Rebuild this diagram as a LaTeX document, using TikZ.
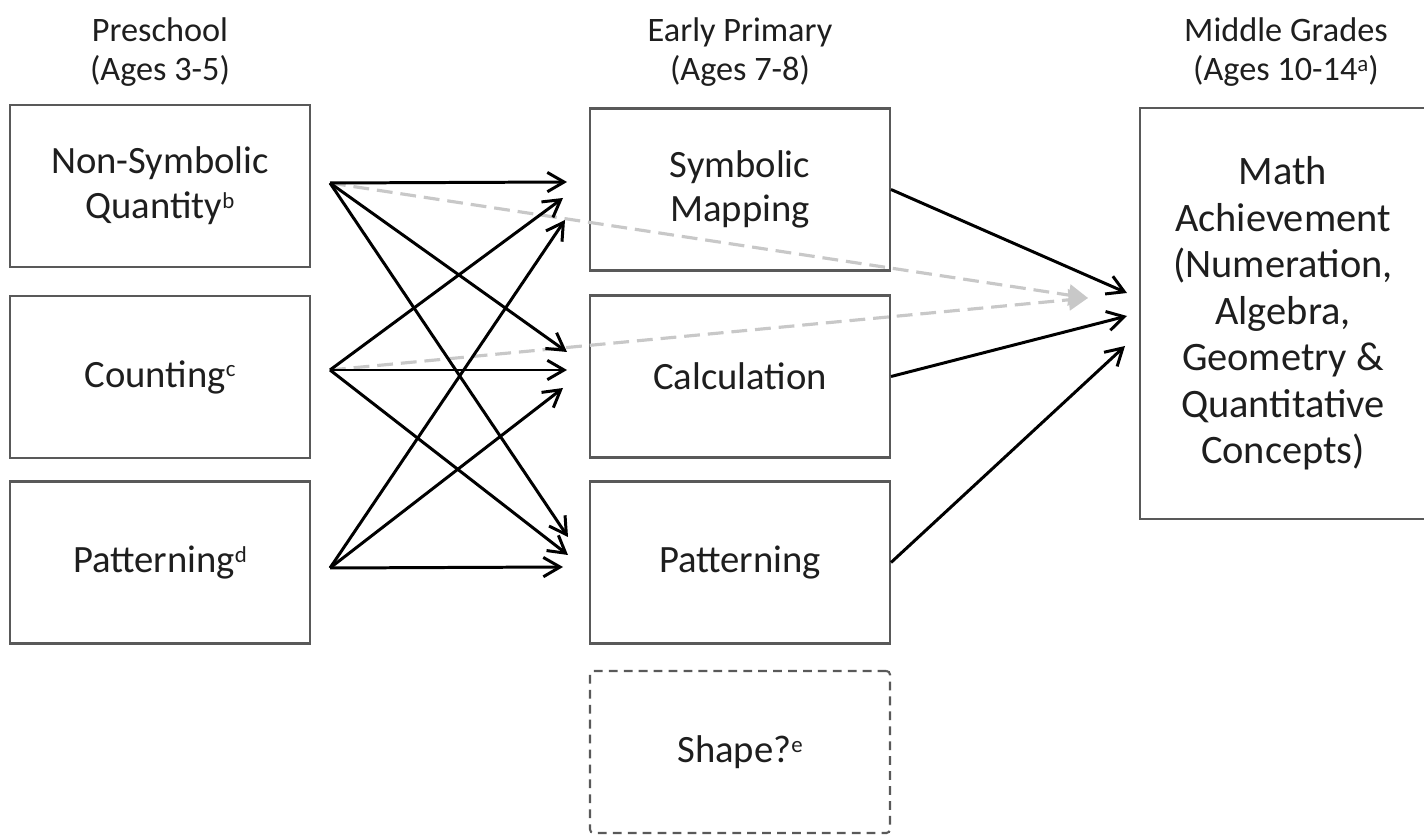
\documentclass[tikz,border=0pt]{standalone}
\usepackage{fontspec}
\setmainfont{Carlito}
\usetikzlibrary{arrows.meta}
\definecolor{boxline}{HTML}{595959}
\definecolor{txt}{HTML}{1E1E1E}
\definecolor{hint}{HTML}{C8C8C8}
\newcommand{\noteref}[1]{\raisebox{0.55ex}{\fontsize{13}{13}\selectfont #1}}
\tikzset{
  box/.style={draw=boxline, line width=1.2pt, minimum width=6cm, minimum height=3.24cm,
    align=center, text=txt, font=\fontsize{22}{25.5}\selectfont},
  head/.style={align=center, text=txt, font=\fontsize{19.5}{22}\selectfont},
  link/.style={-{Straight Barb[length=9.5pt,width=11pt]}, line width=1.7pt},
  hintlink/.style={draw=hint, line width=1.8pt, dash pattern=on 9pt off 4.5pt,
    -{Triangle[length=11pt,width=12pt]}},
}
\begin{document}
\begin{tikzpicture}[x=0.02cm,y=-0.02cm]
    \useasboundingbox (0,0) rectangle (1424,837);
    % column heads
    \node[head] (hpre) at (160,52) {Preschool\\(Ages 3-5)};
    \node[head] (hearly) at (740,52) {Early Primary\\(Ages 7-8)};
    \node[head] (hmid) at (1286,52) {Middle Grades\\(Ages 10-14\noteref{a})};
    % preschool
    \node[box] (nsq) at (160,186) {Non-Symbolic\\Quantity\noteref{b}};
    \node[box] (cnt) at (160,377) {Counting\noteref{c}};
    \node[box] (pat) at (160,562.5) {Patterning\noteref{d}};
    % early primary
    \node[box] (sym) at (740,189.5) {Symbolic\\Mapping};
    \node[box] (calc) at (740,376.5) {Calculation};
    \node[box] (patb) at (740,562.5) {Patterning};
    \node[box, dash pattern=on 5pt off 3.5pt, rounded corners=2pt] (shape) at (740,752) {Shape?\noteref{e}};
    % middle grades
    \node[box, minimum width=5.72cm, minimum height=8.22cm, font=\fontsize{23}{26.5}\selectfont] (math) at (1283,313.5)
        {Math\\Achievement\\(Numeration,\\Algebra,\\Geometry \&\\Quantitative\\Concepts)};
    % arrow ends
    \coordinate (a) at (330,183);
    \coordinate (b) at (330,370);
    \coordinate (c) at (330,568);
    \coordinate (s1) at (567,182);
    \coordinate (s2) at (563,198);
    \coordinate (s3) at (565,220);
    \coordinate (k1) at (567,352);
    \coordinate (k2) at (567,370);
    \coordinate (k3) at (563,388);
    \coordinate (p1) at (568,537);
    \coordinate (p2) at (568,555);
    \coordinate (p3) at (563,567);
    \coordinate (m1) at (1127,293);
    \coordinate (m2) at (1127,316);
    \coordinate (m3) at (1125,346);
    \coordinate (mg) at (1088,298);
    % gray paths
    \draw[hintlink] (a) -- (mg);
    \draw[hintlink] (b) -- (mg);
    % preschool to early primary
    \draw[link] (a) -- (s1);
    \draw[link] (a) -- (k1);
    \draw[link] (a) -- (p1);
    \draw[link] (b) -- (s2);
    \draw[link] (b) -- (k2);
    \draw[link] (b) -- (p2);
    \draw[link] (c) -- (s3);
    \draw[link] (c) -- (k3);
    \draw[link] (c) -- (p3);
    % early primary to middle grades
    \draw[link] (sym.east) -- (m1);
    \draw[link] (calc.east) -- (m2);
    \draw[link] (patb.east) -- (m3);
\end{tikzpicture}
\end{document}
